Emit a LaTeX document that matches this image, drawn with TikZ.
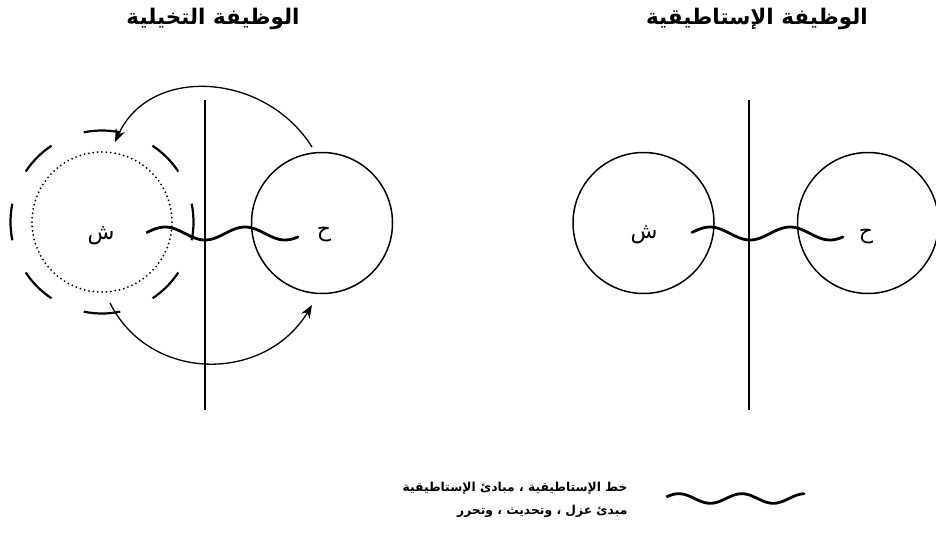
\documentclass[tikz,border=0pt]{standalone}
\usepackage{fontspec}
\usetikzlibrary{arrows.meta,calc}
\TeXXeTstate=1
\newfontfamily\arabicfont[Script=Arabic]{DejaVu Sans}
\begin{document}
\begin{tikzpicture}[x=1pt,y=-1pt,
  ring/.style={circle, draw, line width=1.5pt, minimum size=141pt, inner sep=0pt},
  dotring/.style={circle, draw, line width=2pt, minimum size=140pt, inner sep=0pt, line cap=round, dash pattern=on 0pt off 4.4pt},
  axis/.style={line width=1.2pt},
  wavy/.style={line width=2.8pt, line cap=round},
  dasharc/.style={line width=2.2pt},
  arr/.style={line width=1.3pt, -{Stealth[length=13pt,width=10pt]}},
  title/.style={font=\arabicfont\bfseries\fontsize{21.5}{24}\selectfont},
  lbl/.style={font=\arabicfont\fontsize{22}{26}\selectfont},
  legend/.style={font=\arabicfont\bfseries\fontsize{12.3}{23}\selectfont, align=right}]
\useasboundingbox (0,0) rectangle (936,533);
% titles
\node[title] (t1) at (213,19) {\beginR الوظيفة التخيلية\endR};
\node[title] (t2) at (757,19) {\beginR الوظيفة الإستاطيقية\endR};
% ---------- left diagram ----------
\coordinate (l1top) at (205,100);
\coordinate (l1bot) at (205,410);
\draw[axis] (l1top) -- (l1bot);
\node[dotring] (sh1) at (102,222) {};
\node[ring] (h1) at (322,223) {};
\foreach \a in {0,45,...,315}
  \draw[dasharc] ($(sh1.center)+({\a-11.5}:91.5pt)$) arc[start angle=\a-11.5, end angle=\a+11.5, radius=91.5pt];
\node[lbl] (sh1t) at (101,236) {\beginR ش\endR};
\node[lbl] (h1t) at (324,235) {\beginR ح\endR};
\draw[wavy] plot[domain=0:151, samples=80] ({147+\x}, {233.5-6.5*sin(4.5*(\x+2))});
\coordinate (a1s) at (312,147);
\coordinate (a1e) at (115,142);
\draw[arr] (a1s) .. controls (265,72) and (150,65) .. (a1e);
\coordinate (a2s) at (110,303);
\coordinate (a2e) at (312,305);
\draw[arr] (a2s) .. controls (150,383) and (265,383) .. (a2e);
% ---------- right diagram ----------
\coordinate (r1top) at (749,100);
\coordinate (r1bot) at (749,410);
\draw[axis] (r1top) -- (r1bot);
\node[ring] (sh2) at (643.5,223) {};
\node[ring] (h2) at (868,223) {};
\node[lbl] (sh2t) at (644,235) {\beginR ش\endR};
\node[lbl] (h2t) at (866,237) {\beginR ح\endR};
\draw[wavy] plot[domain=0:151, samples=80] ({692+\x}, {233.5-6.5*sin(4.5*(\x+2))});
% ---------- legend ----------
\draw[wavy] plot[domain=0:137, samples=80] ({667+\x}, {498.5-4.8*sin(5.714*(\x+4))});
\node[legend, anchor=east] (leg) at (631,500) {\beginR خط الإستاطيقية ، مبادئ الإستاطيقية\endR\\\beginR مبدئ عزل ، وتحديث ، وتحرر\endR};
\end{tikzpicture}
\end{document}
